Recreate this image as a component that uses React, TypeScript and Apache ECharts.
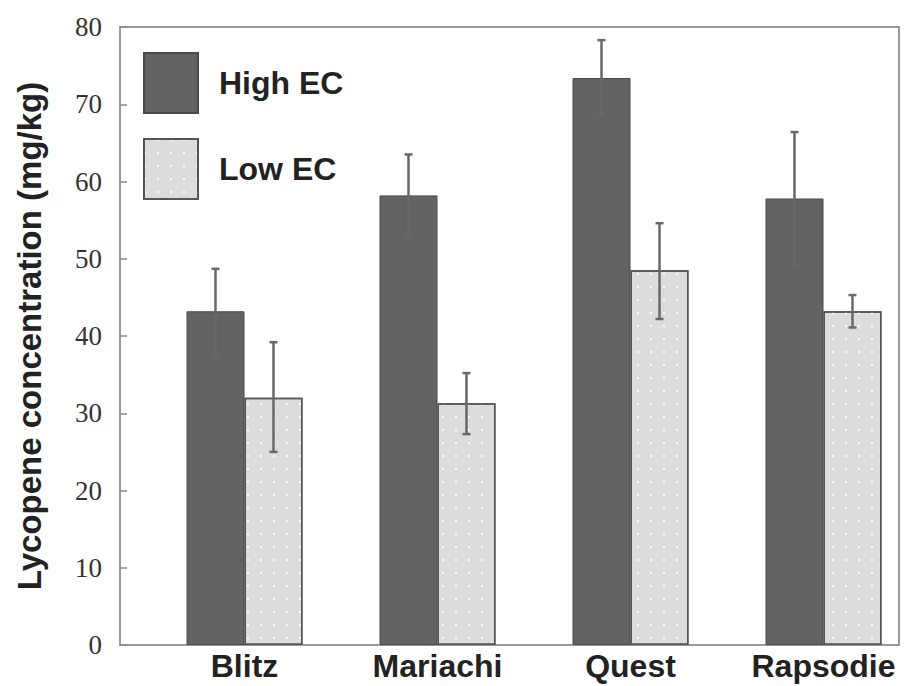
import React, { useEffect, useRef } from "react";
import * as echarts from "echarts";

const categories = ["Blitz", "Mariachi", "Quest", "Rapsodie"];
const highEC = [43.2, 58.2, 73.4, 57.8];
const highLower = [37.3, 52.8, 68.7, 49.1];
const highUpper = [48.7, 63.5, 78.3, 66.4];
const lowEC = [32.0, 31.3, 48.5, 43.2];
const lowLower = [25.0, 27.3, 42.2, 41.1];
const lowUpper = [39.2, 35.2, 54.6, 45.3];
const yTicks = [0, 10, 20, 30, 40, 50, 60, 70, 80];

const BAR_W = 58;

export default function App() {
  const ref = useRef<HTMLDivElement>(null);
  useEffect(() => {
    if (!ref.current) return;
    const chart = echarts.init(ref.current, null, { renderer: "svg" });
    const errData: number[][] = [];
    categories.forEach((_, i) => {
      errData.push([i, highLower[i], highUpper[i], -1]);
      errData.push([i, lowLower[i], lowUpper[i], 1]);
    });
    const option: any = {
      animation: false,
      backgroundColor: "#fff",
      grid: [
        { left: 120, right: 21, top: 27, bottom: 41, show: true, borderColor: "#9a9a9a", borderWidth: 2, backgroundColor: "transparent" },
        { left: 148, width: 780, top: 27, bottom: 41 },
      ],
      legend: {
        orient: "vertical",
        left: 143,
        top: 52,
        padding: 0,
        itemWidth: 54,
        itemHeight: 60,
        itemGap: 24,
        icon: "rect",
        data: ["High EC", "Low EC"],
        textStyle: { fontFamily: "Liberation Sans", fontWeight: "bold", fontSize: 32, color: "#222", padding: [0, 0, 0, 16] },
      },
      xAxis: [
        { type: "category", gridIndex: 0, data: categories, axisLine: { show: false }, axisTick: { show: false }, axisLabel: { show: false } },
        {
          type: "category",
          gridIndex: 1,
          data: categories,
          axisLine: { show: false },
          axisTick: { show: false },
          axisLabel: { margin: 5, fontFamily: "Liberation Sans", fontWeight: "bold", fontSize: 32, color: "#222" },
        },
      ],
      yAxis: [
        {
          type: "value",
          gridIndex: 0,
          min: yTicks[0],
          max: yTicks[yTicks.length - 1],
          interval: 10,
          splitLine: { show: false },
          axisLine: { show: false },
          axisTick: { show: true, inside: true, length: 7, lineStyle: { color: "#888", width: 1.5 } },
          axisLabel: { margin: 18, fontFamily: "Liberation Serif", fontSize: 27, color: "#333", padding: [0, 0, 10, 0] },
          name: "Lycopene concentration (mg/kg)",
          nameLocation: "middle",
          nameRotate: 90,
          nameGap: 74,
          nameTextStyle: { fontFamily: "Liberation Sans", fontWeight: "bold", fontSize: 33, color: "#222" },
        },
        { type: "value", gridIndex: 1, min: 0, max: 80, interval: 10, show: false, splitLine: { show: false } },
      ],
      series: [
        {
          name: "High EC",
          type: "bar",
          xAxisIndex: 1,
          yAxisIndex: 1,
          data: highEC,
          barWidth: BAR_W,
          barGap: "0%",
          itemStyle: { color: "#636363", borderColor: "#4a4a4a", borderWidth: 1 },
        },
        {
          name: "Low EC",
          type: "bar",
          xAxisIndex: 1,
          yAxisIndex: 1,
          data: lowEC,
          barWidth: BAR_W,
          barGap: "0%",
          itemStyle: {
            color: "#dcdcdc",
            borderColor: "#555",
            borderWidth: 1.5,
            decal: { symbol: "rect", symbolSize: 1, color: "rgba(255,255,255,0.85)", dashArrayX: [2, 11], dashArrayY: [2, 11], rotation: 0 },
          },
        },
        {
          type: "custom",
          xAxisIndex: 1,
          yAxisIndex: 1,
          data: errData,
          z: 10,
          renderItem: (params: any, api: any) => {
            const i = api.value(0);
            const side = api.value(3);
            const lo = api.coord([i, api.value(1)]);
            const hi = api.coord([i, api.value(2)]);
            const x = lo[0] + side * (BAR_W / 2);
            const cap = 4;
            const style = { stroke: "#686868", lineWidth: 2.5 };
            return {
              type: "group",
              children: [
                { type: "line", shape: { x1: x, y1: lo[1], x2: x, y2: hi[1] }, style },
                { type: "line", shape: { x1: x - cap, y1: hi[1], x2: x + cap, y2: hi[1] }, style },
                { type: "line", shape: { x1: x - cap, y1: lo[1], x2: x + cap, y2: lo[1] }, style },
              ],
            };
          },
        },
      ],
    };
    chart.setOption(option);
    return () => chart.dispose();
  }, []);
  return <div ref={ref} style={{ position: "fixed", left: 0, top: 0, width: 920, height: 686 }} />;
}
